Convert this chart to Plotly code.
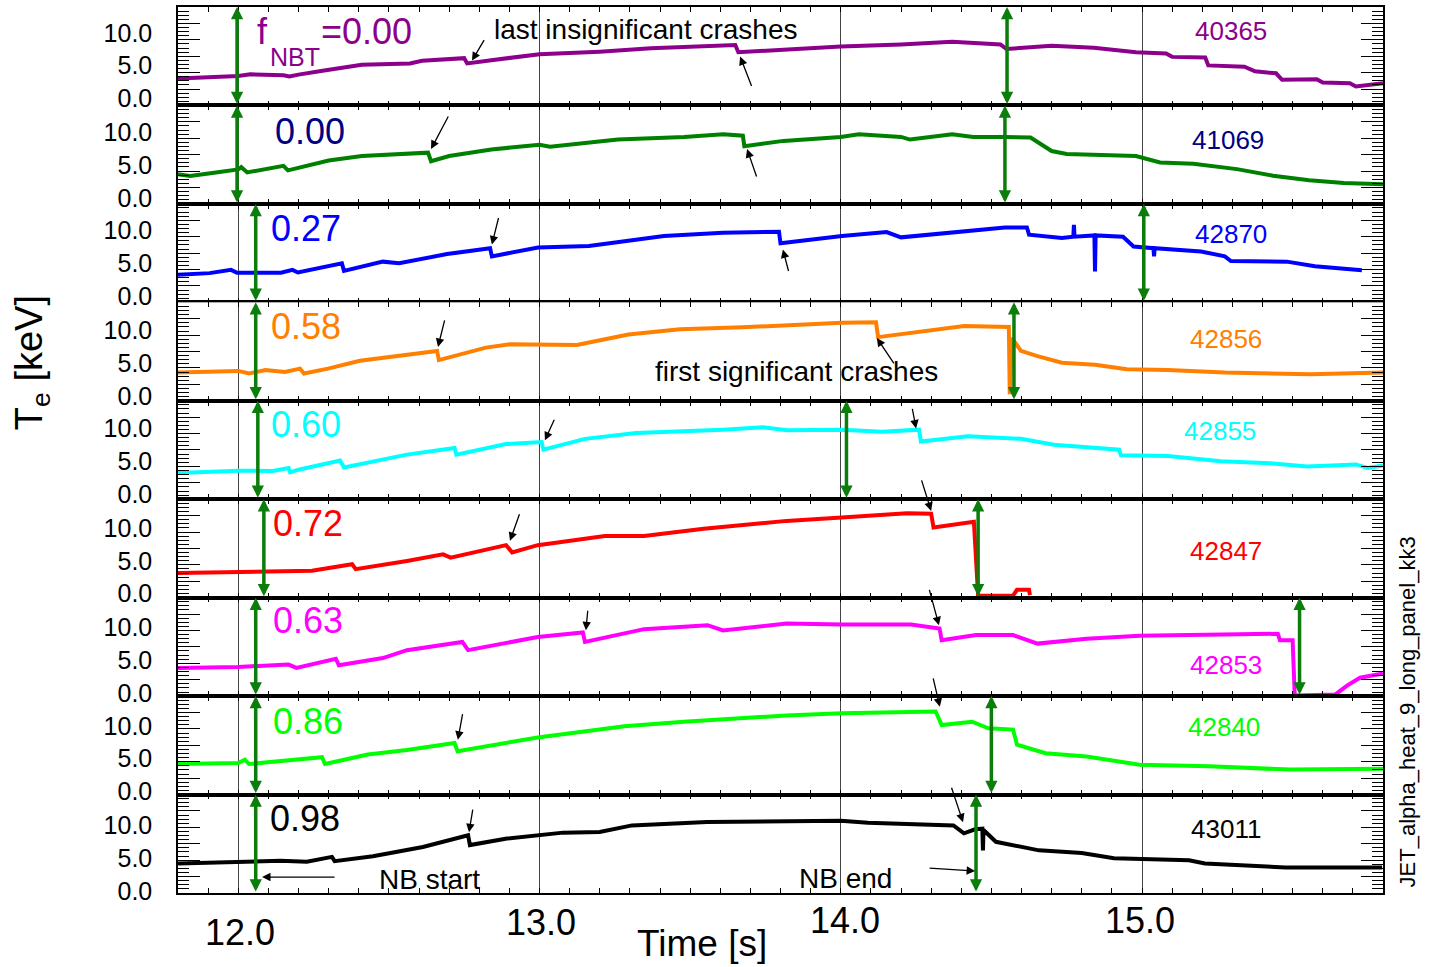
import plotly.graph_objects as go
from plotly.subplots import make_subplots

# ---------------- data ----------------
shots = ['40365', '41069', '42870', '42856', '42855', '42847', '42853', '42840', '43011']
fnbt = ['0.00', '0.00', '0.27', '0.58', '0.60', '0.72', '0.63', '0.86', '0.98']

t_40365 = [11.80, 12.00, 12.04, 12.15, 12.17, 12.20, 12.28, 12.41, 12.57, 12.61, 12.75, 12.76, 12.84, 13.00,
           13.20, 13.37, 13.65, 13.66, 13.81, 14.00, 14.20, 14.37, 14.53, 14.55, 14.70, 14.84, 14.98, 15.08,
           15.10, 15.21, 15.22, 15.34, 15.375, 15.445, 15.465, 15.58, 15.60, 15.69, 15.71, 15.80]
te_40365 = [4.1, 4.5, 4.75, 4.6, 4.4, 4.7, 5.3, 6.2, 6.4, 6.8, 7.2, 6.4, 6.9, 7.8,
            8.2, 8.7, 9.2, 8.1, 8.5, 9.0, 9.3, 9.7, 9.3, 8.6, 9.1, 8.8, 8.1, 7.9,
            7.4, 7.3, 6.1, 5.9, 5.2, 4.9, 3.9, 4.0, 3.5, 3.4, 2.9, 3.4]

t_41069 = [11.80, 11.84, 11.92, 12.00, 12.01, 12.03, 12.15, 12.165, 12.30, 12.41, 12.63, 12.64, 12.70, 12.84,
           13.00, 13.035, 13.26, 13.48, 13.61, 13.675, 13.68, 13.81, 14.00, 14.06, 14.20, 14.23, 14.37, 14.44,
           14.545, 14.63, 14.70, 14.75, 14.98, 15.06, 15.17, 15.315, 15.435, 15.555, 15.67, 15.80]
te_41069 = [4.5, 4.25, 4.75, 5.25, 5.6, 4.8, 5.8, 5.1, 6.6, 7.3, 7.8, 6.5, 7.3, 8.3,
            9.0, 8.7, 9.8, 10.2, 10.6, 10.4, 8.8, 9.6, 10.2, 10.6, 10.2, 9.8, 10.6, 10.2,
            10.2, 10.1, 8.05, 7.6, 7.3, 6.3, 6.1, 5.3, 4.3, 3.6, 3.2, 3.0]

t_42870 = [11.80, 11.905, 11.976, 11.996, 12.142, 12.18, 12.198, 12.344, 12.351, 12.48, 12.534, 12.693,
           12.836, 12.842, 12.995, 13.164, 13.413, 13.609, 13.795, 13.80, 14.004, 14.152, 14.20, 14.273,
           14.545, 14.618, 14.625, 14.734, 14.772, 14.774, 14.776, 14.842, 14.844, 14.846, 14.937, 14.972,
           15.038, 15.04, 15.042, 15.196, 15.275, 15.295, 15.481, 15.574, 15.724, 15.73]
te_42870 = [4.2, 4.45, 4.95, 4.5, 4.5, 4.95, 4.55, 5.95, 4.8, 6.2, 5.95, 7.35,
            8.25, 7.0, 8.35, 8.6, 10.1, 10.6, 10.75, 9.0, 10.1, 10.7, 9.9, 10.2,
            11.4, 11.4, 10.3, 9.8, 10.0, 11.8, 10.0, 10.2, 4.7, 10.2, 10.0, 8.5,
            8.25, 7.0, 8.25, 7.75, 7.0, 6.3, 6.2, 5.5, 4.97, 4.9]

t_42856 = [11.80, 12.00, 12.036, 12.09, 12.155, 12.205, 12.218, 12.298, 12.404, 12.56, 12.66, 12.666,
           12.822, 12.902, 12.995, 13.124, 13.295, 13.466, 13.675, 13.82, 14.004, 14.117, 14.124, 14.41,
           14.558, 14.561, 14.568, 14.598, 14.653, 14.734, 14.844, 14.95, 15.086, 15.275, 15.561, 15.80]
te_42856 = [4.3, 4.55, 4.15, 4.7, 4.4, 4.9, 4.15, 4.9, 6.1, 7.0, 7.6, 6.2,
            8.1, 8.6, 8.5, 8.5, 10.1, 10.9, 11.2, 11.55, 11.9, 11.95, 9.7, 11.4,
            11.25, 1.0, 9.6, 7.6, 6.8, 5.8, 5.5, 4.8, 4.7, 4.3, 4.05, 4.3]

t_42855 = [11.80, 12.00, 12.115, 12.167, 12.172, 12.20, 12.338, 12.351, 12.56, 12.718, 12.724, 12.889,
           13.007, 13.013, 13.151, 13.32, 13.609, 13.742, 13.822, 14.004, 14.137, 14.26, 14.266, 14.422,
           14.598, 14.708, 14.924, 14.93, 15.086, 15.262, 15.425, 15.548, 15.71, 15.75, 15.80]
te_42855 = [4.0, 4.35, 4.3, 4.75, 4.1, 4.5, 5.9, 4.85, 6.8, 7.8, 6.8, 8.4,
            8.7, 7.55, 9.2, 10.1, 10.6, 10.95, 10.5, 10.6, 10.3, 10.6, 8.8, 9.6,
            9.2, 8.3, 7.55, 6.7, 6.6, 5.8, 5.5, 5.0, 5.3, 4.75, 5.15]

t_42847 = [11.80, 12.00, 12.14, 12.245, 12.378, 12.39, 12.56, 12.68, 12.705, 12.889, 12.909, 12.994,
           13.217, 13.347, 13.545, 13.82, 14.003, 14.22, 14.30, 14.308, 14.442, 14.456, 14.572, 14.585,
           14.625, 14.628]
te_42847 = [3.75, 3.95, 3.95, 4.1, 5.1, 4.35, 5.6, 6.6, 6.1, 8.0, 6.9, 8.0,
            9.4, 9.4, 10.5, 11.7, 12.2, 12.85, 12.8, 10.7, 11.55, 0.3, 0.3, 1.2,
            1.2, 0.4]

t_42853 = [11.80, 12.00, 12.167, 12.193, 12.324, 12.334, 12.48, 12.56, 12.744, 12.763, 12.994, 13.144,
           13.151, 13.347, 13.558, 13.609, 13.82, 14.003, 14.233, 14.328, 14.335, 14.449, 14.572, 14.653,
           14.816, 14.992, 15.451, 15.458, 15.50, 15.507, 15.642, 15.683, 15.724, 15.80]
te_42853 = [4.3, 4.45, 4.8, 4.3, 5.7, 4.7, 5.8, 7.0, 8.25, 7.0, 9.0, 9.7,
            8.25, 10.2, 10.8, 10.0, 11.05, 10.9, 10.9, 10.3, 8.5, 9.3, 9.3, 8.0,
            8.75, 9.2, 9.5, 8.5, 8.5, 0.1, 0.25, 1.67, 2.8, 3.45]

t_42840 = [11.80, 12.00, 12.022, 12.036, 12.278, 12.288, 12.43, 12.56, 12.718, 12.728, 12.994, 13.282,
           13.479, 13.82, 14.003, 14.315, 14.335, 14.436, 14.49, 14.572, 14.585, 14.68, 14.816, 14.992,
           15.222, 15.493, 15.80]
te_42840 = [4.65, 4.8, 5.3, 4.65, 5.7, 4.65, 6.1, 6.8, 7.85, 6.6, 8.7, 10.4,
            11.1, 12.05, 12.4, 12.65, 10.6, 11.1, 10.1, 9.9, 7.6, 6.3, 5.8, 4.55,
            4.3, 3.8, 3.95]

t_43011 = [11.80, 12.00, 12.14, 12.228, 12.311, 12.32, 12.447, 12.613, 12.763, 12.769, 12.892, 13.078,
           13.20, 13.307, 13.556, 14.00, 14.09, 14.374, 14.409, 14.446, 14.470, 14.472, 14.474, 14.515,
           14.658, 14.80, 14.907, 15.156, 15.209, 15.477, 15.797]
te_43011 = [4.5, 4.75, 4.9, 4.75, 5.5, 4.85, 5.6, 7.0, 8.8, 7.3, 8.3, 9.2,
            9.3, 10.3, 10.8, 11.0, 10.7, 10.3, 9.1, 9.7, 9.8, 6.5, 9.6, 7.8,
            6.5, 6.1, 5.3, 5.0, 4.5, 3.9, 3.9]

times = [t_40365, t_41069, t_42870, t_42856, t_42855, t_42847, t_42853, t_42840, t_43011]
temps = [te_40365, te_41069, te_42870, te_42856, te_42855, te_42847, te_42853, te_42840, te_43011]

# green double arrows: NB start / NB end times per shot
nb_start = [11.996, 11.996, 12.058, 12.058, 12.065, 12.085, 12.058, 12.058, 12.058]
nb_end = [14.552, 14.545, 15.006, 14.575, 14.019, 14.456, 15.523, 14.500, 14.449]

# crash pointer arrows: (panel, time of head, Te of head)
crash_heads = [
    (1, 12.776, 6.84), (1, 13.666, 7.45),
    (2, 12.640, 8.36), (2, 13.689, 8.36),
    (3, 12.842, 8.81), (3, 13.808, 8.05),
    (4, 12.663, 8.21), (4, 14.120, 9.57),
    (5, 13.018, 8.97), (5, 14.250, 10.79),
    (6, 12.902, 8.66), (6, 14.300, 13.22),
    (7, 13.154, 10.03), (7, 14.326, 10.79),
    (8, 12.729, 8.36), (8, 14.329, 13.37),
    (9, 12.766, 9.27), (9, 14.406, 10.79),
    (9, 12.079, 2.43), (9, 14.446, 3.34),
]

x_tick_labels = ['12.0', '13.0', '14.0', '15.0']
y_tick_vals = [0, 2.5, 5, 7.5, 10, 12.5]
y_tick_text = ['0.0', '', '5.0', '', '10.0', '']

# ---------------- styles / layout ----------------
W, H = 1442, 967
L, R, T, B = 178, 59, 5, 74
PW = W - L - R
PH = H - T - B
FONT = 'Liberation Sans, Arial, sans-serif'
GREEN = '#0b7d0b'
line_colors = ['#8c008c', '#008000', '#0000ff', '#ff8000', '#00ffff', '#ff0000', '#ff00ff', '#00ff00', '#000000']
label_colors = ['#8c008c', '#000080', '#0000ff', '#ff8000', '#00ffff', '#ff0000', '#ff00ff', '#00ff00', '#000000']

# crash arrow tail offsets in pixels (dx, dy)
crash_offsets = [(13, -22), (12, 31), (18, -34), (10, 29), (7, -28), (6, 23), (7, -28), (18, 27),
                 (10, -22), (-4, -21), (10, -28), (-10, -32), (2, -21), (-10, -37), (5, -27), (-7, -30),
                 (4, -24), (-12, -36), (74, 0), (-47, -3)]


def ppx(x):
    return (x - L) / PW


def ppy(y):
    return (T + PH - y) / PH


fig = make_subplots(rows=9, cols=1, vertical_spacing=0)

for i in range(9):
    fig.add_trace(go.Scatter(x=times[i], y=temps[i], mode='lines',
                             line=dict(color=line_colors[i], width=4),
                             hoverinfo='skip', showlegend=False), row=i + 1, col=1)

for i in range(9):
    sfx = '' if i == 0 else str(i + 1)
    fig.layout['xaxis' + sfx].update(
        range=[11.8, 15.8], tickvals=[12, 13, 14, 15], showticklabels=False,
        ticks='inside', ticklen=5, tickcolor='black', tickwidth=1,
        minor=dict(tick0=11.8, dtick=0.1, ticks='inside', ticklen=5, tickcolor='black', showgrid=False),
        showgrid=True, gridcolor='#444444', gridwidth=1,
        showline=True, mirror='allticks', linecolor='black', linewidth=1.5, zeroline=False)
    fig.layout['yaxis' + sfx].update(
        range=[0, 15], tickvals=y_tick_vals, ticktext=y_tick_text,
        ticks='inside', ticklen=22, tickcolor='black', tickwidth=1.2,
        minor=dict(tick0=0, dtick=0.625, ticks='inside', ticklen=11, tickcolor='black', tickwidth=1),
        showgrid=False, zeroline=False,
        showline=True, mirror='allticks', linecolor='black', linewidth=1.5,
        tickfont=dict(family=FONT, size=25, color='black'),
        ticklabelstandoff=19, ticklabelshift=-round(7 - i * 0.6))

ann = []
# green double arrows
for i in range(9):
    sfx = '' if i == 0 else str(i + 1)
    for tt in (nb_start[i], nb_end[i]):
        ann.append(dict(x=tt, y=15, ax=tt, ay=0, xref='x' + sfx, yref='y' + sfx,
                        axref='x' + sfx, ayref='y' + sfx, text='', showarrow=True,
                        arrowside='end+start', arrowhead=2, startarrowhead=2,
                        arrowsize=0.7, startarrowsize=0.7, arrowwidth=3.5, arrowcolor=GREEN))
# crash arrows
for (p, tt, te), (dx, dy) in zip(crash_heads, crash_offsets):
    sfx = '' if p == 1 else str(p)
    ann.append(dict(x=tt, y=te, xref='x' + sfx, yref='y' + sfx, ax=dx, ay=dy, text='',
                    showarrow=True, arrowhead=2, arrowsize=1.3, arrowwidth=1.3, arrowcolor='black'))


def txt(s, x, y, size, color='black', xa='center', ya='middle', angle=0):
    ann.append(dict(text=s, x=ppx(x), y=ppy(y), xref='paper', yref='paper', showarrow=False,
                    xanchor=xa, yanchor=ya, textangle=angle,
                    font=dict(family=FONT, size=size, color=color)))


# f_NBT label on first panel
txt('f', 255, 30, 36, label_colors[0], xa='left')
txt('NBT', 268, 55, 25, label_colors[0], xa='left')
txt('=0.00', 319, 30, 36, label_colors[0], xa='left')
fn_pos = [None, (273, 130), (269, 227), (269, 325), (269, 423), (271, 523), (271, 620), (271, 721), (268, 818)]
for i in range(1, 9):
    txt(fnbt[i], fn_pos[i][0], fn_pos[i][1], 36, label_colors[i], xa='left')

shot_pos = [(1231, 29.5), (1228, 138), (1231, 233), (1226, 338), (1219.5, 430), (1226, 550),
            (1226, 664), (1224, 727), (1226, 829)]
for i in range(9):
    txt(shots[i], shot_pos[i][0], shot_pos[i][1], 26, label_colors[i])

txt('last insignificant crashes', 645, 28, 28)
txt('first significant crashes', 797, 370, 28)
txt('NB start', 429, 879, 28)
txt('NB end', 845, 878, 28)

xl_pos = [(240, 933), (541, 923), (845, 921), (1140, 921)]
for s, (x, y) in zip(x_tick_labels, xl_pos):
    txt(s, x, y, 36)
txt('Time [s]', 702, 944, 37)
txt('T<sub>e</sub> [keV]', 32, 362, 38, angle=-90)
txt('JET_alpha_heat_9_long_panel_kk3', 1407, 712, 22, angle=-90)

fig.update_layout(width=W, height=H, margin=dict(l=L, r=R, t=T, b=B),
                  paper_bgcolor='white', plot_bgcolor='white', annotations=ann,
                  font=dict(family=FONT))

fig.write_html('out.html')
